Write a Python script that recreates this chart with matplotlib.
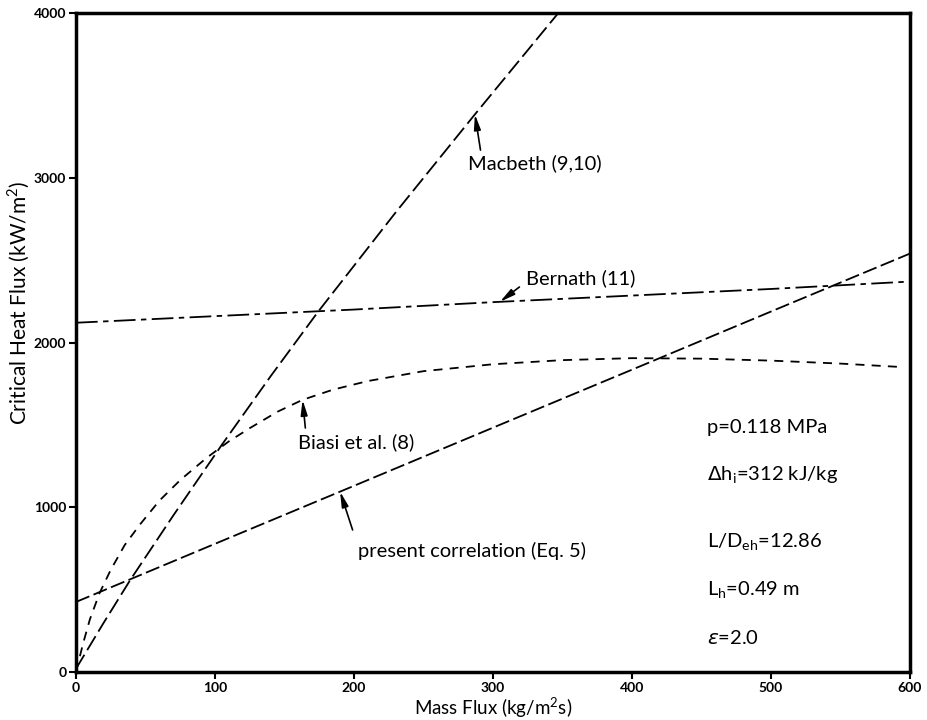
import matplotlib.pyplot as plt
import numpy as np

plt.rcParams['font.family'] = ['Lato', 'DejaVu Sans']

macbeth_g = [0, 20, 39, 70, 105, 140, 174, 230, 287, 347]
macbeth_q = [20, 300, 558, 950, 1380, 1795, 2185, 2790, 3385, 4000]

bernath_g = [0, 100, 200, 300, 400, 500, 600]
bernath_q = [2120, 2160, 2200, 2245, 2285, 2325, 2370]

biasi_g = [0, 5, 10, 17, 25, 35, 46, 60, 75, 94, 110, 125, 145, 163, 185, 210,
           250, 300, 350, 400, 450, 500, 550, 594]
biasi_q = [0, 170, 320, 480, 620, 770, 895, 1040, 1165, 1300, 1400, 1480, 1580, 1652, 1714, 1766,
           1826, 1868, 1893, 1905, 1902, 1890, 1872, 1851]

present_g = [0, 100, 200, 300, 400, 500, 600]
present_q = [425, 778, 1130, 1483, 1835, 2188, 2540]

params = ['p=0.118 MPa', r'$\Delta$h$_\mathregular{i}$=312 kJ/kg', r'L/D$_\mathregular{eh}$=12.86',
          r'L$_\mathregular{h}$=0.49 m', r'$\varepsilon$=2.0']
params_y = [1487, 1196, 789, 498, 206]

fig = plt.figure(figsize=(9.28, 7.2), dpi=100)
ax = fig.add_axes([0.0819, 0.0667, 0.8987, 0.9152])

lw = 1.3
ax.plot(macbeth_g, macbeth_q, color='k', lw=lw, dashes=(9, 3))
ax.plot(bernath_g, bernath_q, color='k', lw=lw, dashes=(12, 3, 3, 3))
ax.plot(biasi_g, biasi_q, color='k', lw=lw, dashes=(5, 4))
ax.plot(present_g, present_q, color='k', lw=lw, dashes=(8, 2.5))

arrow = dict(arrowstyle='-|>,head_length=0.9,head_width=0.2', color='k', lw=1.2,
             shrinkA=0, shrinkB=0)
fs = 14.5

# labels with arrows pointing at their curves
ax.text(282, 3090, 'Macbeth (9,10)', fontsize=fs, va='center')
ax.annotate('', xy=(287, np.interp(287, macbeth_g, macbeth_q)), xytext=(291, 3168), arrowprops=arrow)

ax.text(324, 2391, 'Bernath (11)', fontsize=fs, va='center')
ax.annotate('', xy=(305, np.interp(305, bernath_g, bernath_q)), xytext=(319, 2337), arrowprops=arrow)

ax.text(160, 1396, 'Biasi et al. (8)', fontsize=fs, va='center')
ax.annotate('', xy=(163, np.interp(163, biasi_g, biasi_q)), xytext=(165, 1481), arrowprops=arrow)

ax.text(203, 734, 'present correlation (Eq. 5)', fontsize=fs, va='center')
ax.annotate('', xy=(190, np.interp(190, present_g, present_q)), xytext=(199, 862), arrowprops=arrow)

for s, y in zip(params, params_y):
    ax.text(454, y, s, fontsize=fs, va='center')

ax.set_xlim(0, 600)
ax.set_ylim(0, 4000)
ax.set_xticks([0, 100, 200, 300, 400, 500, 600])
ax.set_yticks([0, 1000, 2000, 3000, 4000])
ax.tick_params(direction='out', length=5, width=1.5, labelsize=10, pad=2)
for lab in ax.get_xticklabels() + ax.get_yticklabels():
    lab.set_fontweight('bold')
for sp in ax.spines.values():
    sp.set_linewidth(2.5)

ax.set_xlabel('Mass Flux (kg/m$^\\mathregular{2}$s)', fontsize=13.5, labelpad=1)
fig.text(0.020, 0.579, 'Critical Heat Flux (kW/m$^\\mathregular{2}$)', fontsize=15,
         rotation=90, ha='center', va='center')

plt.savefig('out.png', dpi=100)
